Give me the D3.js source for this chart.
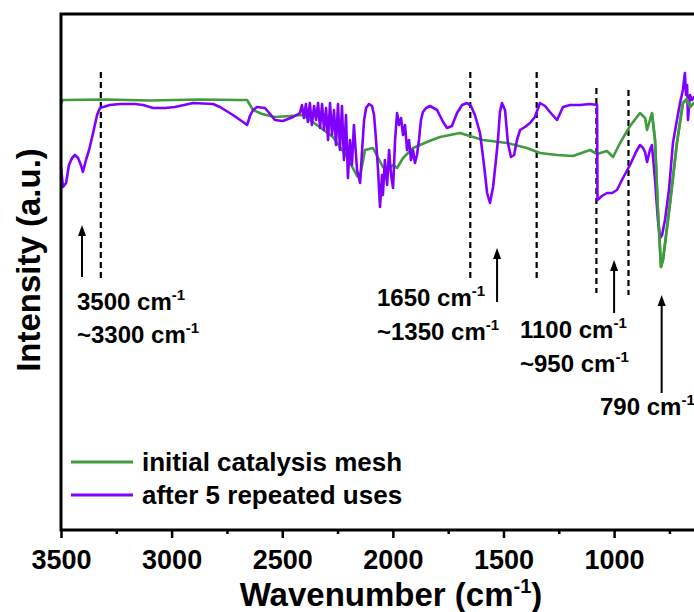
<!DOCTYPE html>
<html>
<head>
<meta charset="utf-8">
<script src="https://cdn.jsdelivr.net/npm/d3@7"></script>
<style>
  body { margin: 0; background: #fff; }
  svg { display: block; font-family: "Liberation Sans", Arial, sans-serif; font-weight: bold; }
</style>
</head>
<body>
<div id="chart"></div>
<script>
// FTIR spectra, [wavenumber (cm-1), intensity (a.u.)]
var initialMesh = [
  [3500,85.4],[3491,86.0],[3300,86.1],[3098,85.9],[2872,86.1],[2700,86.0],[2659,86.0],
  [2632,84.0],[2591,83.2],[2533,82.6],[2465,82.8],[2406,83.0],[2343,81.0],[2271,78.6],
  [2207,74.6],[2162,70.8],[2149,70.6],[2126,76.0],[2090,76.4],[2045,72.6],[2027,72.0],
  [1999,73.0],[1981,72.4],[1954,74.4],[1909,76.4],[1846,77.6],[1787,78.6],[1697,79.4],
  [1593,78.0],[1484,77.4],[1394,76.4],[1335,75.4],[1258,75.0],[1186,74.8],[1109,76.0],
  [1077,75.2],[1032,75.8],[1005,74.6],[973,77.4],[928,80.8],[883,83.4],[860,82.4],
  [851,80.0],[829,83.4],[815,78.0],[802,64.0],[788,52.6],[779,54.0],[747,65.4],
  [716,77.4],[689,85.4],[671,86.2],[657,84.6],[639,85.4],[612,85.6]
];

var afterUses = [
  [3500,72.6],[3491,68.6],[3477,69.4],[3464,73.0],[3450,74.4],[3437,75.0],[3423,74.4],
  [3410,73.0],[3401,71.6],[3387,74.0],[3373,76.0],[3355,79.4],[3337,83.0],[3324,84.4],
  [3279,85.0],[3233,85.2],[3166,85.2],[3129,85.0],[3084,84.4],[3030,84.4],[2985,84.6],
  [2903,85.4],[2813,85.2],[2781,84.6],[2723,83.0],[2677,81.6],[2659,81.0],[2646,82.8],
  [2632,84.0],[2614,84.6],[2578,84.4],[2555,83.2],[2533,82.0],[2497,81.8],[2451,82.6],
  [2420,83.4],
  [2411,85],[2402,82.4],[2393,85.2],[2384,81.6],[2375,85.4],[2366,81],[2356,84.8],
  [2347,82],[2338,85.4],[2329,80.4],[2320,85.2],[2311,80],[2302,84.4],[2293,78],
  [2284,85.4],[2275,79],[2266,84],[2257,77],[2248,85.2],[2239,76],[2230,84.8],[2221,74],
  [2212,83],[2203,70.4],[2194,78],[2185,73],[2176,81],[2162,72],[2148,69.4],[2139,76],
  [2130,82],[2121,84.4],[2108,85.2],[2094,84.8],[2085,83],[2076,78],[2067,72],[2058,64.6],
  [2049,71],[2045,67],[2036,74],[2026,69],[2017,76],[2008,71],[1999,68.4],[1990,78],
  [1981,83.4],[1972,81],[1963,82.4],[1954,79],[1945,81],[1936,76],[1927,78],[1918,74],
  [1909,76],[1900,73.4],[1891,75],[1882,78],[1873,82],[1864,83.6],[1850,84.4],[1832,84.8],
  [1800,84],[1773,81.6],[1755,80.4],[1733,80.8],[1710,83.4],[1687,85],[1665,85.4],
  [1647,84.8],[1629,83],[1606,79.4],[1588,73],[1574,67.4],[1561,65.4],[1547,68.6],
  [1534,74],[1525,78],[1516,83.6],[1507,85.4],[1493,84],[1480,77.4],[1466,74.6],
  [1452,75],[1439,78],[1425,80],[1403,80.6],[1380,81.4],[1358,82.6],[1335,85.4],
  [1312,84.8],[1290,83.6],[1258,82],[1231,84.6],[1199,85],[1154,85],[1109,85.2],
  [1077,85],[1075,66],[1055,66.8],[1032,67.4],[1009,67.4],[987,68],[960,70.4],[928,73],
  [901,75.6],[883,77],[869,76.4],[860,75.6],[851,73.6],[838,76],[829,77],[815,70],
  [802,62],[792,58.4],[783,59],[770,62],[752,68],[734,77.4],[716,82],[702,85.4],
  [689,88],[680,91.4],[675,87],[670,89],[666,82],[657,87],[648,86],[639,86.6],[612,86.4]
];

var seriesNames = ["initial catalysis mesh", "after 5 repeated uses"];
var seriesColors = ["#409b3c", "#8000ff"];
var majorTicks = [3500, 3000, 2500, 2000, 1500, 1000];
var minorTicks = [3250, 2750, 2250, 1750, 1250, 750];

// dashed guide lines (cm-1) and arrows (cm-1)
var guideWaves = [3320, 1650, 1350, 1080, 935];
var arrowWaves = [3405, 1529, 1000, 785];
var bandLabels = [
  ["3500", "~3300"],
  ["1650", "~1350"],
  ["1100", "~950"],
  ["790"]
];

var svgWidth = 694;
var svgHeight = 612;

var margin = { top: 14, left: 61, bottom: 82 };
var plotBottom = svgHeight - margin.bottom;

var svg = d3.select("#chart")
  .append("svg")
  .attr("width", svgWidth)
  .attr("height", svgHeight);

// plot runs past the right edge of the picture (cropped)
var x = d3.scaleLinear()
  .domain([3500, 600])
  .range([margin.left, margin.left + 2900 / 4.52]);

var y = d3.scaleLinear()
  .domain([0, 103.2])
  .range([plotBottom, margin.top]);

// dashed guides
var guideExt = [[91.6, 50.4], [91.6, 50.4], [91.6, 50.0], [88.4, 47.4], [88.0, 47.0]];
svg.append("g").selectAll("line")
  .data(guideWaves)
  .enter()
  .append("line")
  .attr("x1", d => x(d))
  .attr("x2", d => x(d))
  .attr("y1", (d, i) => y(guideExt[i][0]))
  .attr("y2", (d, i) => y(guideExt[i][1]))
  .attr("stroke", "#000")
  .attr("stroke-width", 2.2)
  .attr("stroke-dasharray", "6,4");

// spectra
var line = d3.line()
  .x(d => x(d[0]))
  .y(d => y(d[1]));

[initialMesh, afterUses].forEach(function(data, i) {
  svg.append("path")
    .datum(data)
    .attr("fill", "none")
    .attr("stroke", seriesColors[i])
    .attr("stroke-width", 2.6)
    .attr("stroke-linejoin", "round")
    .attr("d", line);
});
// keep green drawn over purple around the 790 band like the reference
svg.append("path")
  .datum(initialMesh.filter(d => d[0] < 830))
  .attr("fill", "none")
  .attr("stroke", seriesColors[0])
  .attr("stroke-width", 2.6)
  .attr("stroke-linejoin", "round")
  .attr("d", line);

// arrows
var arrowExt = [[50.6, 61.0], [45.6, 56.4], [43.4, 54.0], [27.4, 47.0]];
var arrows = svg.append("g");
arrowWaves.forEach(function(w, i) {
  var ax = x(w), yb = y(arrowExt[i][0]), yt = y(arrowExt[i][1]);
  arrows.append("line")
    .attr("x1", ax).attr("x2", ax)
    .attr("y1", yb).attr("y2", yt + 8)
    .attr("stroke", "#000")
    .attr("stroke-width", 2);
  arrows.append("path")
    .attr("d", `M${ax},${yt} L${ax - 4},${yt + 11} L${ax + 4},${yt + 11} Z`)
    .attr("fill", "#000");
});

// band labels
var labelPos = [[77, 310, 343], [377, 306, 340], [520, 338, 372], [600, 415]];
bandLabels.forEach(function(group, i) {
  group.forEach(function(txt, j) {
    var t = svg.append("text")
      .attr("x", labelPos[i][0])
      .attr("y", labelPos[i][j + 1])
      .attr("font-size", 24)
      .attr("fill", "#000");
    t.append("tspan").text(txt + " cm");
    t.append("tspan").attr("font-size", 15).attr("dy", -10).text("-1");
  });
});

// axes
var bottomAxis = d3.axisBottom(x)
  .tickValues(majorTicks)
  .tickSize(8)
  .tickPadding(12)
  .tickFormat(d3.format("d"));

var gx = svg.append("g")
  .attr("transform", `translate(0, ${plotBottom})`)
  .call(bottomAxis);
gx.select(".domain").remove();
gx.selectAll(".tick line").attr("stroke-width", 2.5);
gx.selectAll(".tick text")
  .attr("font-size", 27)
  .attr("font-family", "'Liberation Sans', Arial, sans-serif")
  .attr("font-weight", "bold")
  .attr("fill", "#000");

var gm = svg.append("g")
  .attr("transform", `translate(0, ${plotBottom})`)
  .call(d3.axisBottom(x).tickValues(minorTicks).tickSize(4).tickFormat(""));
gm.select(".domain").remove();
gm.selectAll(".tick line").attr("stroke-width", 2.5);

// frame: bottom, left, top
svg.append("path")
  .attr("d", `M${svgWidth + 10},${margin.top} H${margin.left} V${plotBottom} H${svgWidth + 10}`)
  .attr("fill", "none")
  .attr("stroke", "#000")
  .attr("stroke-width", 3);

// legend
var legend = svg.append("g");
seriesNames.forEach(function(name, i) {
  var ly = 462 + i * 33;
  legend.append("line")
    .attr("x1", 71).attr("x2", 133)
    .attr("y1", ly).attr("y2", ly)
    .attr("stroke", seriesColors[i])
    .attr("stroke-width", 3);
  legend.append("text")
    .attr("x", 142)
    .attr("y", ly + 9)
    .attr("font-size", 26)
    .attr("fill", "#000")
    .text(name);
});

// axis titles
var xt = svg.append("text")
  .attr("x", 391)
  .attr("y", 606)
  .attr("text-anchor", "middle")
  .attr("font-size", 33)
  .attr("fill", "#000");
xt.append("tspan").text("Wavenumber (cm");
xt.append("tspan").attr("font-size", 20).attr("dy", -13).text("-1");
xt.append("tspan").attr("dy", 13).text(")");

svg.append("text")
  .attr("transform", "translate(40, 260) rotate(-90)")
  .attr("text-anchor", "middle")
  .attr("font-size", 33)
  .attr("fill", "#000")
  .text("Intensity (a.u.)");
</script>
</body>
</html>
